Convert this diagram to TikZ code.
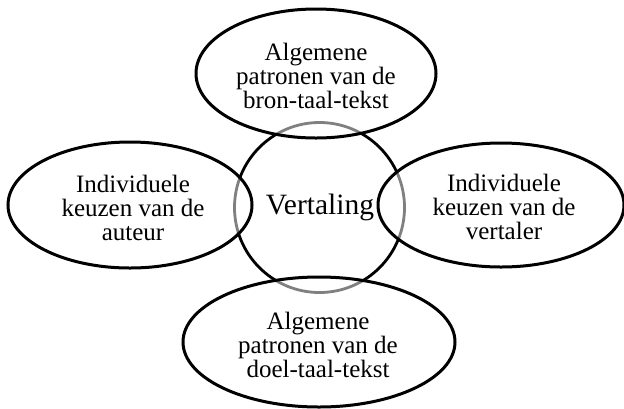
\documentclass[tikz,border=0pt]{standalone}
\usepackage{fontspec}
\setmainfont{Liberation Serif}
\usetikzlibrary{shapes.geometric}
\begin{document}
\begin{tikzpicture}[x=1pt,y=-1pt,
  bubble/.style={ellipse, draw=black, line width=3pt, fill=white,
    fill opacity=0.5, text opacity=1, draw opacity=1, inner sep=0pt},
  words/.style={align=center, inner sep=0pt, font=\fontsize{25}{24}\selectfont},
  core/.style={circle, draw=black, line width=2.8pt, inner sep=0pt,
    minimum size=170pt}]
\useasboundingbox (0,0) rectangle (624,408);
\node[core] (vert) at (319.5,207.5) {};
\node[words, font=\fontsize{29.5}{30}\selectfont] (vertt) at (320,207) {Vertaling};
\node[bubble, minimum width=240pt, minimum height=129pt] (top) at (316,73.5) {};
\node[bubble, minimum width=244pt, minimum height=126pt] (left) at (130,205) {};
\node[bubble, minimum width=246pt, minimum height=124pt] (right) at (501,205) {};
\node[bubble, minimum width=272pt, minimum height=130pt] (bottom) at (319,342) {};
\node[words] (topt) at (316,76) {Algemene\\patronen van de\\bron-taal-tekst};
\node[words] (leftt) at (133,208) {Individuele\\keuzen van de\\auteur};
\node[words] (rightt) at (504,207) {Individuele\\keuzen van de\\vertaler};
\node[words] (bottomt) at (318,345) {Algemene\\patronen van de\\doel-taal-tekst};
\end{tikzpicture}
\end{document}
